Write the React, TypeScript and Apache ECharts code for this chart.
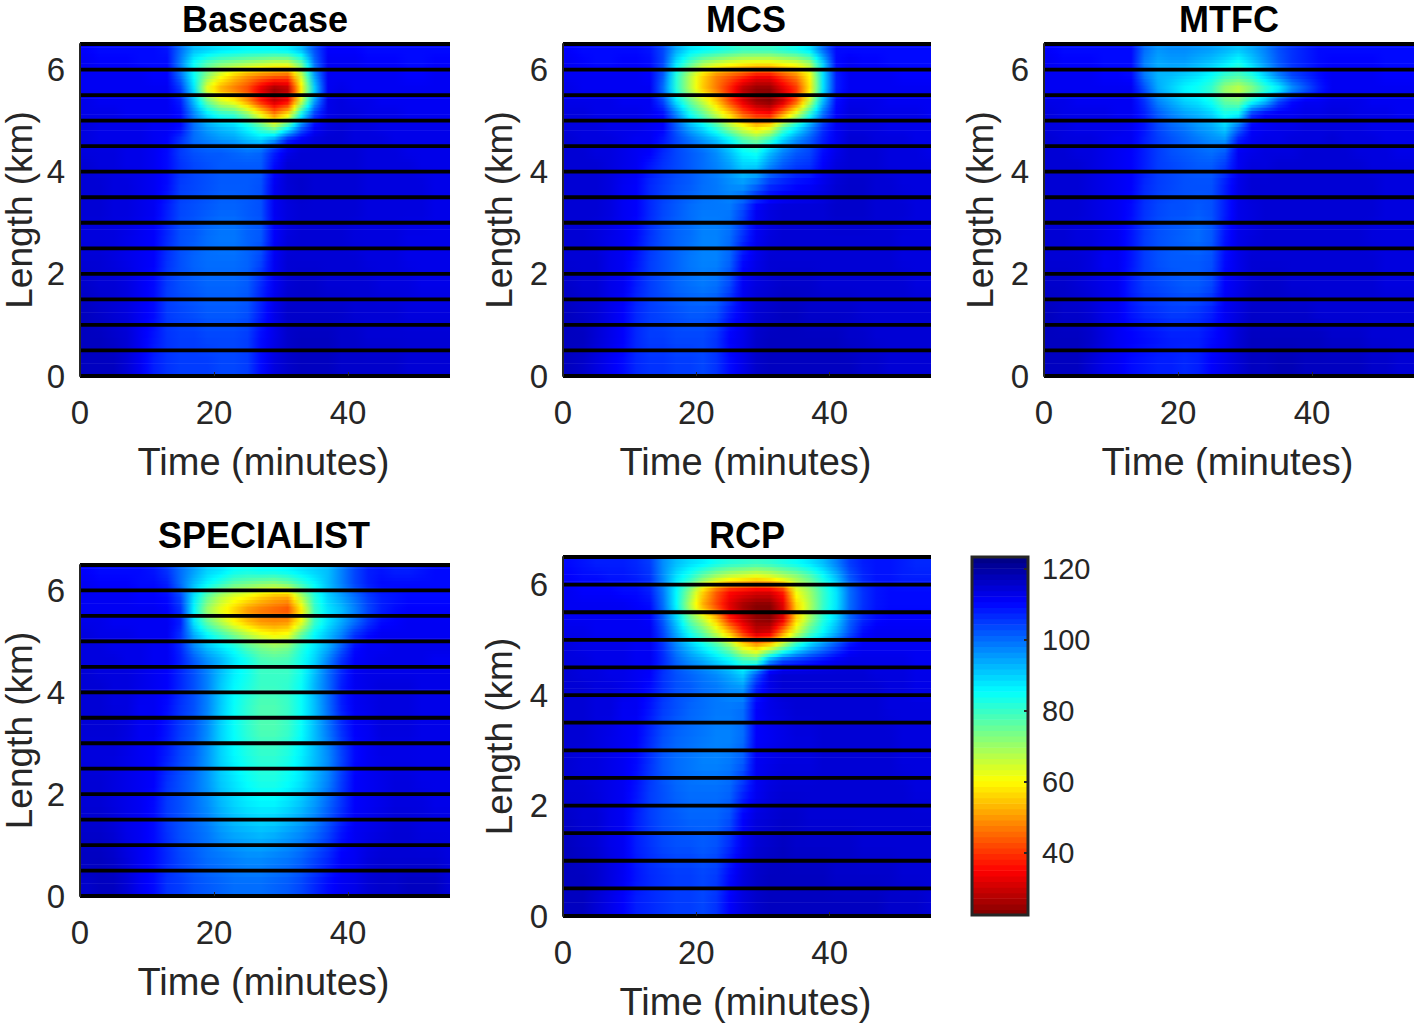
import React, { useEffect, useRef } from "react";
import * as echarts from "echarts";

const FONT = "'Liberation Sans', Arial, sans-serif";
const INK = "#262626";

const columnStarts = [0,2,4,6,8,10,12,14,16,18,20,22,24,26,28,30,32,34,36,38,40,42,44,46,48,50,52,54];
const rowEdges = [6.5,6.25,6,5.75,5.5,5.25,5,4.75,4.5,4.25,4,3.5,3,2.5,2,1.5,1,0.5,0];
const lineLevels = [0,0.5,1,1.5,2,2.5,3,3.5,4,4.5,5,5.5,6,6.5];
const xTicks = [0,20,40];
const yTicks = [0,2,4,6];
const barTicks = [40,60,80,100,120];
const barMin = 22.5;
const barMax = 123.4;
const timeMax = 55.2;
const lengthMax = 6.5;
const jetColors = ["#800000","#ff0000","#ff8000","#ffff00","#80ff80","#00ffff","#0080ff","#0000ff","#000080"];

const basecase = [
[111,110,110,110,110,110,109,100,92,90,88,87,86,86,86,87,92,103,111,111,111,110,110,110,110,110,110,110],
[112,111,111,111,110,110,110,98,85,78,74,72,70,68,66,66,76,100,112,112,112,111,111,111,110,110,111,111],
[112,112,112,112,112,111,111,100,85,72,62,55,50,47,45,44,65,95,112,112,112,112,112,112,111,111,112,112],
[112,112,112,112,112,112,112,105,88,62,52,47,42,32,25,28,58,90,112,113,112,112,112,112,112,112,112,112],
[113,112,112,112,112,112,112,108,92,75,65,60,50,38,30,35,65,95,113,114,113,113,112,112,112,112,112,112],
[113,113,113,112,112,112,112,110,98,88,82,80,72,60,48,58,85,105,113,114,114,113,113,113,112,112,112,112],
[114,113,113,113,113,112,112,110,100,95,92,90,85,78,70,82,100,111,114,115,114,114,113,113,113,113,113,113],
[114,113,113,113,113,112,111,106,100,98,96,95,92,90,96,108,112,114,115,115,114,114,114,113,113,113,113,113],
[114,114,114,113,113,112,110,105,103,102,102,101,100,101,108,113,115,115,115,115,115,114,114,114,113,113,113,113],
[115,114,114,113,113,112,110,106,104,103,102,102,102,102,110,115,115,115,115,115,115,114,114,114,114,113,113,113],
[115,115,114,114,113,112,110,105,104,103,102,102,102,103,112,115,116,115,115,115,115,114,114,114,114,114,113,113],
[115,115,114,114,113,112,108,104,103,102,101,101,102,103,112,114,115,115,115,115,115,114,114,114,114,114,113,113],
[114,114,114,113,112,111,107,103,102,100,99,99,101,102,111,114,115,115,115,115,114,114,114,114,113,113,113,113],
[115,115,114,113,112,111,106,103,101,100,100,100,101,104,112,115,115,115,115,115,115,114,114,114,113,113,113,113],
[116,115,115,114,112,110,105,103,102,101,101,101,102,107,112,115,116,116,115,115,115,115,114,114,114,113,113,113],
[117,116,115,114,112,110,105,104,103,102,102,102,103,108,113,116,116,116,116,116,115,115,115,115,114,114,114,114],
[117,117,116,115,112,109,106,105,105,104,104,104,105,110,113,116,117,117,117,116,116,115,115,115,115,115,115,115],
[117,117,117,115,112,108,106,105,105,105,104,104,105,110,114,116,117,117,117,116,116,116,116,116,115,115,115,115],
];

const mcs = [
[111,110,110,110,110,110,109,104,94,88,86,84,82,80,80,80,82,84,88,100,110,110,110,110,110,110,110,110],
[112,111,110,110,111,111,110,104,88,78,70,66,63,61,60,60,62,64,70,90,110,112,111,111,110,110,110,110],
[112,112,112,112,112,112,111,102,82,68,56,48,44,40,35,35,42,48,60,88,108,112,112,112,112,111,111,111],
[113,112,112,112,112,112,112,100,82,68,55,47,38,28,24,24,32,40,58,88,108,112,112,112,112,112,112,112],
[113,113,113,113,112,112,112,104,88,76,66,55,42,32,25,23,30,44,66,92,110,113,113,113,112,112,112,112],
[114,114,113,113,113,113,112,110,98,85,76,66,56,44,38,36,50,65,82,100,111,114,114,113,113,113,113,112],
[114,114,114,113,113,113,112,111,102,94,88,80,70,62,56,60,76,86,96,106,112,114,114,114,113,113,113,113],
[115,114,114,114,113,112,112,109,104,100,96,92,86,78,74,80,90,97,102,108,112,115,115,114,114,114,113,113],
[115,115,114,114,113,112,111,107,104,102,100,97,92,86,84,92,98,102,104,110,113,115,115,115,114,114,114,113],
[115,115,115,114,113,112,109,106,104,102,100,98,95,90,90,97,102,105,106,111,114,115,115,115,114,114,114,114],
[115,115,115,114,112,111,107,105,103,102,100,99,97,96,100,106,108,110,111,113,115,116,116,115,115,114,114,114],
[115,115,115,114,112,111,107,104,102,100,99,99,99,104,112,114,115,115,115,115,116,116,116,115,115,115,114,114],
[115,115,114,113,112,110,106,103,101,100,98,98,100,106,112,114,115,115,115,115,115,115,115,115,115,114,114,114],
[115,115,115,113,112,109,105,103,101,99,98,98,101,110,113,115,115,115,115,115,115,115,115,115,115,114,114,114],
[116,115,115,113,112,108,105,103,101,100,99,100,104,112,114,115,116,116,116,115,115,115,115,115,115,115,114,114],
[117,116,115,113,111,107,105,104,103,102,102,103,108,112,115,116,117,117,116,116,116,116,115,115,115,115,115,115],
[117,117,115,113,111,107,105,105,104,104,104,106,111,113,116,117,117,117,117,117,117,116,116,115,115,115,115,115],
[117,116,114,112,110,107,106,106,105,105,104,106,110,113,116,117,117,117,117,117,117,117,116,116,115,115,115,115],
];

const mtfc = [
[111,110,110,110,110,110,110,100,96,97,97,96,95,93,91,94,98,103,106,108,110,110,110,110,110,110,110,110],
[112,111,111,111,110,110,110,98,94,95,95,93,91,88,84,90,96,102,106,108,110,111,111,111,111,110,110,110],
[112,112,112,112,111,111,110,99,93,92,90,88,85,80,78,82,90,98,104,107,110,112,112,112,112,111,111,111],
[112,112,112,112,112,112,112,103,94,90,86,84,80,70,66,72,80,86,96,102,108,112,112,112,112,112,112,112],
[113,113,112,112,112,112,112,106,98,94,90,88,84,76,74,84,92,104,110,112,112,113,113,113,112,112,112,112],
[114,113,113,113,113,112,112,108,102,98,95,93,90,84,86,106,111,112,112,113,113,114,114,113,113,113,112,112],
[114,114,113,113,113,113,112,109,104,101,99,96,94,90,100,111,112,113,113,114,114,114,114,114,113,113,113,113],
[115,114,114,114,113,112,112,108,105,103,101,99,97,96,108,112,113,113,114,114,114,115,114,114,114,113,113,113],
[115,115,114,114,113,112,111,108,105,103,102,101,100,102,112,113,114,114,114,115,115,115,115,114,114,114,113,113],
[115,115,115,114,113,112,111,108,105,104,103,102,102,105,112,114,114,115,115,115,115,115,115,115,114,114,114,114],
[115,115,115,114,113,112,111,107,105,104,103,103,103,108,113,115,115,115,115,115,115,115,115,115,115,114,114,114],
[115,115,115,114,113,112,110,106,104,103,103,102,103,108,113,114,115,115,115,115,115,115,115,115,115,114,114,114],
[115,115,114,114,113,112,109,105,103,102,101,100,102,109,113,114,115,115,115,115,115,115,115,115,114,114,114,114],
[115,115,115,114,112,112,109,105,103,102,102,102,103,110,113,115,115,115,115,115,115,115,115,115,115,114,114,114],
[116,116,115,114,113,112,108,105,104,103,102,102,104,111,113,115,116,116,115,115,115,115,115,115,115,114,114,114],
[117,116,116,115,113,112,109,107,106,105,105,106,108,112,114,116,116,116,116,116,115,115,115,115,115,115,115,115],
[117,117,117,116,114,112,111,110,109,108,108,108,110,112,115,117,117,117,117,117,117,116,116,116,115,115,115,115],
[117,117,117,115,113,112,110,109,108,108,107,108,111,113,115,117,117,118,118,117,117,117,117,117,116,116,115,115],
];

const specialist = [
[111,110,110,110,110,109,106,100,95,90,88,85,84,85,85,86,88,90,92,98,104,108,109,108,108,109,110,110],
[112,111,111,111,110,110,108,100,92,86,81,76,74,72,71,74,80,86,92,98,104,108,110,110,110,110,110,110],
[112,112,112,112,111,111,110,104,88,76,68,63,60,56,53,52,68,82,90,95,100,105,108,109,110,110,110,110],
[112,112,112,112,112,112,111,106,86,70,62,56,50,47,45,43,58,80,88,92,98,104,108,110,111,111,111,111],
[113,113,112,112,112,112,112,108,88,76,68,60,54,50,49,50,62,80,88,94,100,106,110,111,112,112,112,112],
[114,113,113,113,112,112,112,106,94,86,80,74,68,63,60,62,76,86,92,98,106,110,112,112,112,112,112,112],
[114,114,113,113,113,112,112,107,98,92,88,84,78,74,72,74,82,88,94,102,110,112,112,113,113,113,113,113],
[114,114,114,113,113,112,112,108,102,97,93,88,84,79,78,79,84,90,98,106,111,112,113,113,113,113,112,112],
[115,114,114,114,113,112,111,107,103,98,92,87,84,80,80,80,84,92,100,107,112,113,113,113,113,113,113,113],
[115,115,114,114,113,112,111,107,103,98,91,86,83,80,80,81,85,93,100,108,112,113,114,114,114,113,113,113],
[115,115,114,114,112,112,110,106,103,98,91,85,81,78,78,80,85,92,100,108,112,113,114,114,114,113,113,113],
[115,115,115,114,112,112,109,105,102,97,90,85,81,78,78,80,85,92,99,106,111,112,114,114,114,113,113,113],
[114,114,114,113,112,111,108,104,101,96,90,86,83,81,81,83,87,92,97,104,110,112,113,113,113,113,113,113],
[115,115,114,113,112,111,106,103,100,96,91,88,85,83,83,85,88,93,98,105,111,112,113,114,114,113,113,113],
[115,115,114,113,112,110,105,103,100,97,93,90,88,87,87,89,92,96,101,106,111,112,113,114,114,114,113,113],
[116,116,115,113,112,110,106,103,101,99,96,94,93,92,93,95,97,100,104,109,112,113,114,115,115,114,114,114],
[117,117,116,114,112,110,107,104,102,100,99,98,97,97,98,99,101,104,107,111,112,114,115,115,115,115,115,114],
[116,117,117,115,112,110,106,105,103,102,101,100,100,100,101,102,104,107,110,112,113,115,116,116,117,117,117,115],
];

const rcp = [
[110,109,108,108,108,107,105,97,92,89,87,84,82,81,80,81,83,85,88,92,98,105,108,109,109,108,107,107],
[111,110,110,109,109,108,106,97,88,82,74,68,64,62,60,62,66,70,76,84,92,102,107,109,109,108,108,108],
[112,111,111,111,110,110,108,99,86,72,56,44,36,34,32,32,38,62,70,80,88,100,106,109,110,110,110,110],
[112,112,112,112,112,111,110,100,86,68,52,42,32,26,23,23,32,56,68,80,88,100,106,109,110,110,110,110],
[112,112,112,112,112,112,111,102,90,76,66,54,38,30,24,23,32,56,70,82,90,101,107,110,111,111,111,111],
[113,113,112,112,112,112,112,104,94,84,76,66,54,40,30,32,50,66,78,86,94,103,110,112,112,112,112,112],
[114,113,113,113,113,112,112,106,98,92,86,80,72,60,54,60,72,84,92,98,104,110,112,112,112,112,112,112],
[114,114,113,113,113,112,112,107,101,97,94,90,86,80,78,96,104,106,108,110,112,113,113,113,113,113,112,112],
[115,114,114,113,113,112,111,106,103,101,99,97,94,90,102,113,115,115,115,115,115,115,115,114,114,114,113,113],
[115,115,114,114,113,112,110,106,103,102,100,99,97,96,108,113,115,115,115,115,115,115,115,115,114,114,113,113],
[115,115,114,114,112,112,109,105,103,101,100,99,99,100,111,113,114,115,115,115,115,115,115,115,114,114,114,114],
[115,115,114,113,112,111,107,103,101,100,99,98,98,100,111,112,113,114,114,115,115,115,115,115,115,114,114,114],
[115,114,114,113,112,110,106,102,100,99,98,98,99,102,112,113,114,114,114,115,115,115,115,115,115,114,114,114],
[115,115,114,113,112,109,105,103,101,100,100,100,101,107,112,114,115,115,115,115,115,115,115,115,115,115,114,114],
[116,115,115,113,112,108,105,103,102,101,101,101,103,111,114,115,116,116,115,115,115,115,115,115,115,115,115,115],
[117,116,115,113,112,108,106,104,103,103,102,103,107,112,115,116,117,116,116,116,116,116,115,115,115,115,115,115],
[117,117,116,114,112,109,107,106,105,105,104,105,110,114,116,117,117,117,117,117,116,116,116,116,116,115,115,115],
[117,117,115,113,111,108,107,106,105,105,104,106,111,114,116,117,117,117,117,117,117,117,117,117,116,116,116,115],
];

const panels = [
  { name: "Basecase", table: basecase, left: 80, top: 44, width: 370, height: 332, titleX: 265, titleTop: 1, yNameGap: 42 },
  { name: "MCS", table: mcs, left: 563, top: 44, width: 368, height: 332, titleX: 746, titleTop: 1, yNameGap: 45 },
  { name: "MTFC", table: mtfc, left: 1044, top: 44, width: 370, height: 332, titleX: 1229, titleTop: 1, yNameGap: 45 },
  { name: "SPECIALIST", table: specialist, left: 80, top: 565, width: 370, height: 331, titleX: 264, titleTop: 517, yNameGap: 42 },
  { name: "RCP", table: rcp, left: 563, top: 557, width: 368, height: 359, titleX: 747, titleTop: 517, yNameGap: 45 },
];

const SUBROWS = 4;

const jet = (v: number) =>
  echarts.color.lerp(Math.min(1, Math.max(0, (v - barMin) / (barMax - barMin))), jetColors);

const centerOf = (r: number) => (rowEdges[r] + rowEdges[r + 1]) / 2;

// Interpolated shading between the read rows, like MATLAB's "shading interp":
// each table row is one data item, painted as thin strips with horizontal gradients.
const shadeRow = (table: number[][]) => (params: any, api: any) => {
  const r = params.dataIndex;
  const yHigh = api.value(1);
  const yLow = api.value(0);
  const children: any[] = [];
  const left = api.coord([0, yHigh])[0];
  const right = api.coord([timeMax, yHigh])[0];
  for (let s = 0; s < SUBROWS; s++) {
    const yTop = yHigh - ((yHigh - yLow) * s) / SUBROWS;
    const yBot = yHigh - ((yHigh - yLow) * (s + 1)) / SUBROWS;
    const y = (yTop + yBot) / 2;
    let other = r;
    if (y > centerOf(r) && r > 0) other = r - 1;
    if (y < centerOf(r) && r < table.length - 1) other = r + 1;
    const span = centerOf(other) - centerOf(r);
    const w = span === 0 ? 0 : (y - centerOf(r)) / span;
    const vals = table[r].map((v, c) => v + (table[other][c] - v) * w);
    const stops: any[] = [{ offset: 0, color: jet(vals[0]) }];
    vals.forEach((v, c) => {
      const t = columnStarts[c] + 1;
      stops.push({ offset: t / timeMax, color: jet(v) });
      if (c < vals.length - 1) {
        stops.push({ offset: (t + 1) / timeMax, color: jet((v + vals[c + 1]) / 2) });
      }
    });
    stops.push({ offset: 1, color: jet(vals[vals.length - 1]) });
    const top = api.coord([0, yTop])[1];
    const bot = api.coord([0, yBot])[1];
    children.push({
      type: "rect",
      shape: { x: left, y: top, width: right - left, height: bot - top + 0.6 },
      style: { fill: new echarts.graphic.LinearGradient(0, 0, 1, 0, stops) },
    });
  }
  return { type: "group", children };
};

const renderLevel = (_: any, api: any) => {
  const a = api.coord([0, api.value(0)]);
  const b = api.coord([timeMax, api.value(0)]);
  return {
    type: "line",
    shape: { x1: a[0], y1: a[1], x2: b[0], y2: b[1] },
    style: { stroke: "#000", lineWidth: 3.8 },
  };
};

const renderBar = (_: any, api: any) => {
  const a = api.coord([0, api.value(1)]);
  const b = api.coord([1, api.value(0)]);
  return {
    type: "rect",
    shape: { x: a[0], y: a[1], width: b[0] - a[0], height: b[1] - a[1] + 0.6 },
    style: { fill: jet((api.value(0) + api.value(1)) / 2) },
  };
};

const barSteps = 64;
const barCells = Array.from({ length: barSteps }, (_, i) => {
  const d = (barMax - barMin) / barSteps;
  return [barMin + i * d, barMin + (i + 1) * d];
});

function buildOption() {
  const grid: any[] = [];
  const xAxis: any[] = [];
  const yAxis: any[] = [];
  const series: any[] = [];
  const title: any[] = [];
  const labelStyle = { color: INK, fontFamily: FONT, fontSize: 33 };
  const nameStyle = { color: INK, fontFamily: FONT, fontSize: 37 };

  panels.forEach((p, i) => {
    grid.push({ left: p.left, top: p.top, width: p.width, height: p.height, outerBoundsMode: "none" });
    xAxis.push({
      type: "value", gridIndex: i, min: 0, max: timeMax, z: 10,
      name: "Time (minutes)", nameLocation: "middle", nameGap: 67,
      nameTextStyle: { ...nameStyle, fontSize: 38, padding: [0, 3, 0, 0] },
      axisLine: { show: false },
      axisTick: { show: true, inside: true, length: 4, customValues: xTicks, lineStyle: { color: INK } },
      axisLabel: { ...labelStyle, margin: 20, customValues: xTicks },
      splitLine: { show: false },
    });
    yAxis.push({
      type: "value", gridIndex: i, min: 0, max: lengthMax, z: 10,
      name: "Length (km)", nameLocation: "middle", nameGap: p.yNameGap, nameTextStyle: nameStyle,
      axisLine: { show: true, onZero: false, lineStyle: { color: INK, width: 2 } },
      axisTick: { show: false, customValues: yTicks },
      axisLabel: { ...labelStyle, margin: 15, padding: [9, 0, 0, 0], customValues: yTicks },
      splitLine: { show: false },
    });
    series.push({
      type: "custom", name: p.name, xAxisIndex: i, yAxisIndex: i,
      coordinateSystem: "cartesian2d", clip: true, renderItem: shadeRow(p.table),
      data: p.table.map((row, r) => [rowEdges[r + 1], rowEdges[r], ...row]),
      encode: { y: [0, 1] }, silent: true,
    });
    series.push({
      type: "custom", name: p.name + " segments", xAxisIndex: i, yAxisIndex: i,
      coordinateSystem: "cartesian2d", clip: false, renderItem: renderLevel, z: 5,
      data: lineLevels.map((y) => [y]), encode: { y: 0 }, silent: true,
    });
    title.push({
      text: p.name, left: p.titleX, top: p.titleTop, textAlign: "center", padding: 0,
      textStyle: { color: "#000", fontFamily: FONT, fontSize: 36, fontWeight: "bold" },
    });
  });

  grid.push({ left: 972, top: 557, width: 56, height: 358, outerBoundsMode: "none" });
  xAxis.push({ type: "value", gridIndex: 5, min: 0, max: 1, show: false });
  yAxis.push({
    type: "value", gridIndex: 5, min: barMin, max: barMax, position: "right", z: 10,
    axisLine: { show: false, onZero: false },
    axisTick: { show: true, inside: true, length: 4, customValues: barTicks, lineStyle: { color: INK, width: 2 } },
    axisLabel: { color: INK, fontFamily: FONT, fontSize: 29, margin: 14, customValues: barTicks },
    splitLine: { show: false },
  });
  series.push({
    type: "custom", name: "colorbar", xAxisIndex: 5, yAxisIndex: 5,
    coordinateSystem: "cartesian2d", renderItem: renderBar, data: barCells,
    encode: { y: [0, 1] }, silent: true,
  });

  return {
    animation: false,
    backgroundColor: "#fff",
    tooltip: { show: false },
    title, grid, xAxis, yAxis, series,
    graphic: [{
      type: "rect", z: 100, silent: true,
      shape: { x: 972, y: 557, width: 56, height: 358 },
      style: { fill: "none", stroke: INK, lineWidth: 3 },
    }],
  };
}

export default function App() {
  const ref = useRef<HTMLDivElement>(null);
  useEffect(() => {
    const chart = echarts.init(ref.current!, undefined, { renderer: "svg" });
    chart.setOption(buildOption() as any);
    return () => chart.dispose();
  }, []);
  return <div ref={ref} style={{ position: "absolute", left: 0, top: 0, width: 1415, height: 1023 }} />;
}
